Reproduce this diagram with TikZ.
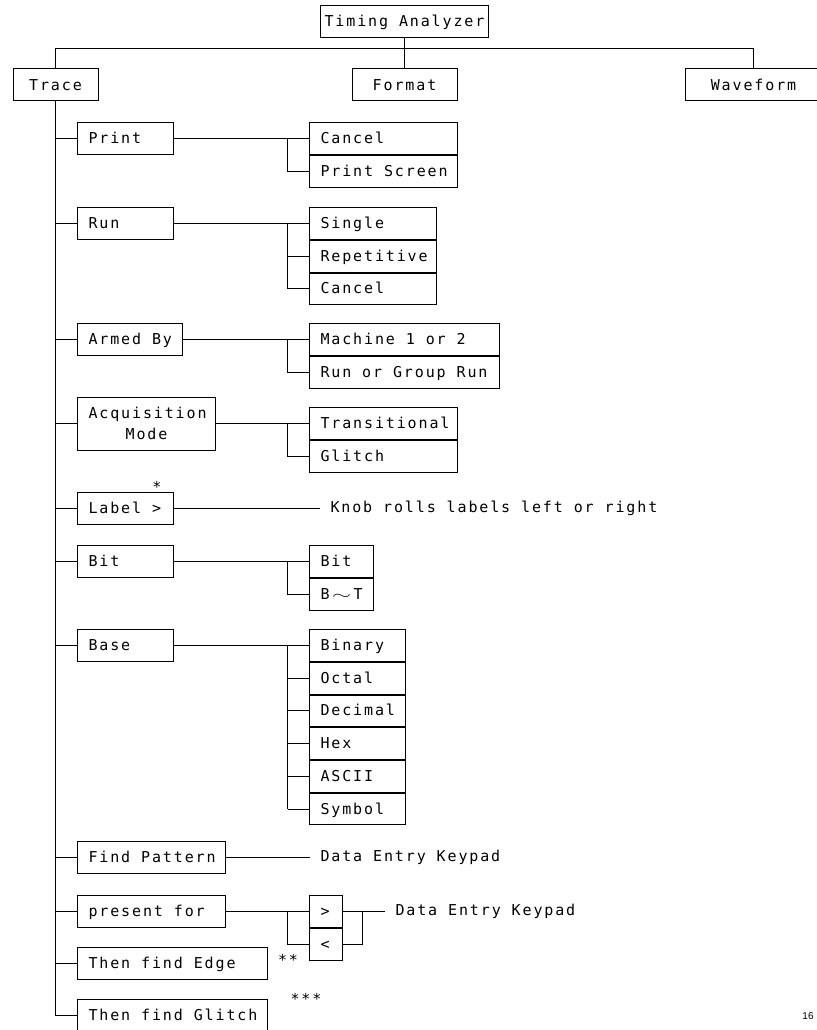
\documentclass[tikz,border=0pt]{standalone}
\usepackage{fontspec}
\newfontfamily\plotter[LetterSpace=12.5]{DejaVu Sans Mono}
\newfontfamily\pagefont{Liberation Sans}
\usetikzlibrary{positioning}

\begin{document}
\begin{tikzpicture}[x=1pt, y=-1pt, line width=1pt,
every node/.style = {font=\plotter\fontsize{15}{17}\selectfont,
	execute at begin node={\spaceskip=10.9pt\relax}},
topbox/.style = {draw, minimum width=#1, minimum height=32, inner sep=0pt},
item/.style = {draw, anchor=west, text width=#1, align=left,
	minimum height=31.7, inner xsep=11pt, inner ysep=0pt,
	text height=11pt, text depth=1pt},
sub/.style = {item=#1},
note/.style = {anchor=west, inner xsep=10pt, inner ysep=0pt}
]
\useasboundingbox (0,0) rectangle (816,1030);
% Draw the top level
\node[topbox=168] (root)   at (404.5,22)  {Timing Analyzer};
\node[topbox=85]  (trace)  at (55.5,85)   {Trace};
\node[topbox=105] (format) at (404.5,85)  {Format};
\node[topbox=136] (wave)   at (753.5,85)  {Waveform};
\coordinate (bus) at (404.5,48.5);
\draw (root.south) -- (format.north);
\draw (trace.north) |- (bus) -| (wave.north);

% Draw the Trace menu
\node[item=74] (print)   at (77,138.5)  {Print};
\node[item=74] (run)     at (77,223.5)  {Run};
\node[item=83] (armed)   at (77,339.5)  {Armed~By};
\node[item=116, align=center, minimum height=53, text depth=22pt] (acq)
	at (77,423.5) {Acquisition\\[4pt]Mode};
\node[item=74] (label)   at (77,508.5)  {Label~>};
\node[item=74] (bit)     at (77,561.5)  {Bit};
\node[item=74] (base)    at (77,645.5)  {Base};
\node[item=126] (findp)  at (77,857.5)  {Find~Pattern};
\node[item=126] (present) at (77,911.5) {present~for};
\node[item=168] (edge)   at (77,963.5)  {Then~find~Edge};
\node[item=168] (glitch) at (77,1015.5) {Then~find~Glitch};

\draw (trace.south) |- (glitch.west);
\foreach \n in {print,run,armed,acq,label,bit,base,findp,present,edge}
\draw (trace.south |- \n.west) -- (\n.west);

% Draw the choice boxes
\coordinate (bx) at (287.5,0);
\coordinate (rx) at (362.5,0);

\node[sub=126] (P-1) at (309,138.5) {Cancel};
\node[sub=126, below=0pt of P-1] (P-2) {Print~Screen};
\draw (print.east) -- (P-1.west);
\draw (bx |- P-1.west) |- (P-2.west);

\node[sub=105] (R-1) at (309,223.5) {Single};
\node[sub=105, below=0pt of R-1] (R-2) {Repetitive};
\node[sub=105, below=0pt of R-2] (R-3) {Cancel};
\draw (run.east) -- (R-1.west);
\draw (bx |- R-1.west) |- (R-3.west);
\draw (bx |- R-2.west) -- (R-2.west);

\node[sub=168] (A-1) at (309,339.5) {Machine~1~or~2};
\node[sub=168, below=0pt of A-1] (A-2) {Run~or~Group~Run};
\draw (armed.east) -- (A-1.west);
\draw (bx |- A-1.west) |- (A-2.west);

\node[sub=126] (Q-1) at (309,423.5) {Transitional};
\node[sub=126, below=0pt of Q-1] (Q-2) {Glitch};
\draw (acq.east |- Q-1.west) -- (Q-1.west);
\draw (bx |- Q-1.west) |- (Q-2.west);

\node[note] (knob) at (320,508.5) {Knob rolls labels left or right};
\draw (label.east) -- (knob.west);
\node (star1) at (157,487) {*};

\node[sub=42] (T-1) at (309,561.5) {Bit};
\node[sub=42, below=0pt of T-1] (T-2) {B\,\scalebox{1.7}[1]{$\sim$}\,T};
\draw (bit.east) -- (T-1.west);
\draw (bx |- T-1.west) |- (T-2.west);

\node[sub=74] (B-1) at (309,645.5) {Binary};
\foreach \t [count=\j from 1] in {Octal,Decimal,Hex,ASCII,Symbol}
{
	\pgfmathtruncatemacro\i{\j+1}
	\node[sub=74, below=0pt of B-\j] (B-\i) {\t};
	\draw (bx |- B-\i.west) -- (B-\i.west);
}
\draw (base.east) -- (B-1.west);
\draw (bx |- B-1.west) -- (bx |- B-6.west);

\node[note] (keypad1) at (310,857.5) {Data Entry Keypad};
\draw (findp.east) -- (keypad1.west);

\node[sub=11] (C-1) at (309,911.5) {>};
\node[sub=11, below=0pt of C-1] (C-2) {<};
\draw (present.east) -- (C-1.west);
\draw (bx |- C-1.west) |- (C-2.west);
\node[note] (keypad2) at (385,911.5) {Data Entry Keypad};
\draw (C-1.east) -- (keypad2.west);
\draw (rx |- C-1.east) |- (C-2.east);

\node (star2) at (288,960) {**};
\node (star3) at (306,999) {***};

\node[font=\pagefont\fontsize{10}{12}\selectfont] (page) at (808,1016) {16};
\end{tikzpicture}
\end{document}
